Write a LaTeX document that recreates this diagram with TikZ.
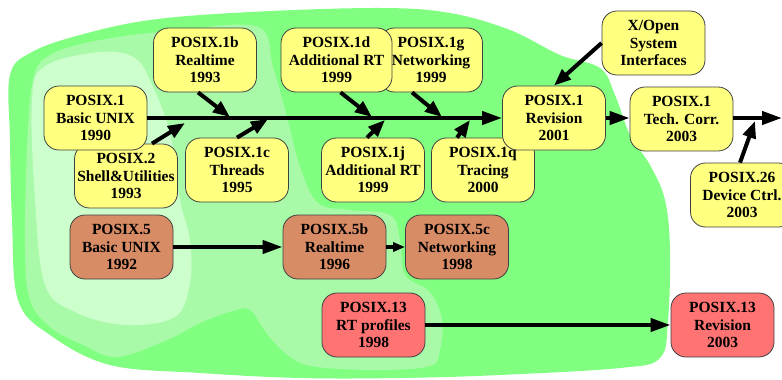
\documentclass[tikz,border=0pt]{standalone}
\usepackage{fontspec}
\setmainfont{Liberation Serif}[BoldFont={Liberation Serif Bold}]
\usetikzlibrary{arrows.meta,calc}
\definecolor{gOuter}{HTML}{80FF80}
\definecolor{gMid}{HTML}{A8FAA8}
\definecolor{gInner}{HTML}{CCFFCC}
\definecolor{boxY}{HTML}{FFFF80}
\definecolor{boxB}{HTML}{D88C66}
\definecolor{boxR}{HTML}{FF7373}
\definecolor{edgeC}{HTML}{404040}
\tikzset{
  std/.style={draw=edgeC, line width=0.8pt, rounded corners=15pt, minimum width=103pt,
    minimum height=64pt, inner sep=0pt, align=center,
    font=\fontsize{15.5}{17.5}\selectfont\bfseries},
  ybox/.style={std, fill=boxY},
  bbox/.style={std, fill=boxB},
  rbox/.style={std, fill=boxR},
  conn/.style={line width=4pt, -{Triangle[length=20pt,width=13pt]}},
  side/.style={line width=4pt, -{Triangle[length=17pt,width=13pt]}},
  small/.style={line width=4pt, -{Triangle[length=12pt,width=9pt]}}
}
\begin{document}
\begin{tikzpicture}[x=1pt,y=-1pt]
\useasboundingbox (0,0) rectangle (782,380);
% background blobs
\fill[gOuter] plot[smooth cycle, tension=0.6] coordinates {
 (10,75) (32,52) (80,35) (150,20) (250,12) (380,8) (450,13) (510,30) (560,55)
 (600,68) (615,95) (630,135) (650,165) (665,200) (670,250) (668,320) (660,358)
 (620,368) (500,375) (400,378) (300,378) (200,373) (110,365) (50,335) (18,300)
 (12,220) (10,140)};
\fill[gMid] plot[smooth cycle, tension=0.6] coordinates {
 (33,80) (50,55) (100,40) (180,30) (258,27) (273,67) (287,117) (300,167)
 (318,203) (350,210) (390,215) (400,240) (405,275) (430,292) (442,320) (440,350)
 (430,366) (380,370) (317,367) (290,357) (268,335) (250,310) (233,311) (200,323)
 (167,340) (117,357) (83,345) (50,327) (30,300) (25,250) (27,150)};
\fill[gInner] plot[smooth cycle, tension=0.6] coordinates {
 (32,100) (45,66) (100,52) (135,58) (152,85) (170,133) (180,200) (190,240)
 (190,283) (175,317) (125,325) (75,312) (45,285) (35,200)};
% boxes (lower ones first)
\node[ybox] (n2) at (126,176) {POSIX.2\\Shell\&Utilities\\1993};
\node[ybox] (n1g) at (431,60) {POSIX.1g\\Networking\\1999};
\node[ybox] (n1q) at (483,170) {POSIX.1q\\Tracing\\2000};
\node[ybox] (n1) at (95.5,118) {POSIX.1\\Basic UNIX\\1990};
\node[ybox] (n1b) at (205,60) {POSIX.1b\\Realtime\\1993};
\node[ybox] (n1c) at (237,170) {POSIX.1c\\Threads\\1995};
\node[ybox, minimum width=111pt] (n1d) at (336.5,60) {POSIX.1d\\Additional RT\\1999};
\node[ybox] (n1j) at (373,170) {POSIX.1j\\Additional RT\\1999};
\node[ybox] (nrev) at (554,118) {POSIX.1\\Revision\\2001};
\node[ybox] (nxo) at (653.5,43) {X/Open\\System\\Interfaces};
\node[ybox] (ntc) at (681.5,119) {POSIX.1\\Tech. Corr.\\2003};
\node[ybox] (n26) at (742,195) {POSIX.26\\Device Ctrl.\\2003};
\node[bbox] (n5) at (121.5,247) {POSIX.5\\Basic UNIX\\1992};
\node[bbox] (n5b) at (334.5,247) {POSIX.5b\\Realtime\\1996};
\node[bbox] (n5c) at (457,247) {POSIX.5c\\Networking\\1998};
\node[rbox] (n13) at (373.5,325) {POSIX.13\\RT profiles\\1998};
\node[rbox] (n13r) at (722.5,325) {POSIX.13\\Revision\\2003};
% tip coordinates
\coordinate (t1b) at (230,117);
\coordinate (t2) at (185,123);
\coordinate (t1c) at (268,119);
\coordinate (t1d) at (372,117);
\coordinate (t1j) at (385,120);
\coordinate (t1g) at (442,117);
\coordinate (t1q) at (470,120);
\coordinate (t26) at (755,121);
\coordinate (tend) at (782,118);
% connectors
\draw[conn] (n1.east |- 0,118) -- (nrev.west |- 0,118);
\draw[conn] (nrev.east |- 0,118) -- (ntc.west |- 0,118);
\draw[conn] (ntc.east |- 0,118) -- (tend);
\draw[side] ($(n1b.south)+(-7,0)$) -- (t1b);
\draw[side] ($(n2.north)+(26,0)$) -- (t2);
\draw[side] (n1c.north) -- (t1c);
\draw[side] ($(n1d.south)+(4,0)$) -- (t1d);
\draw[side] ($(n1j.north)+(-6,0)$) -- (t1j);
\draw[side] ($(n1g.south)+(-19,0)$) -- (t1g);
\draw[side] ($(n1q.north)+(-26,0)$) -- (t1q);
\draw[side] (nxo.west) -- (nrev.north);
\draw[side] ($(n26.north)+(-2,0)$) -- (t26);
\draw[conn] (n5.east) -- (n5b.west);
\draw[small] (n5b.east) -- (n5c.west);
\draw[conn] (n13.east) -- (n13r.west);
\end{tikzpicture}
\end{document}
